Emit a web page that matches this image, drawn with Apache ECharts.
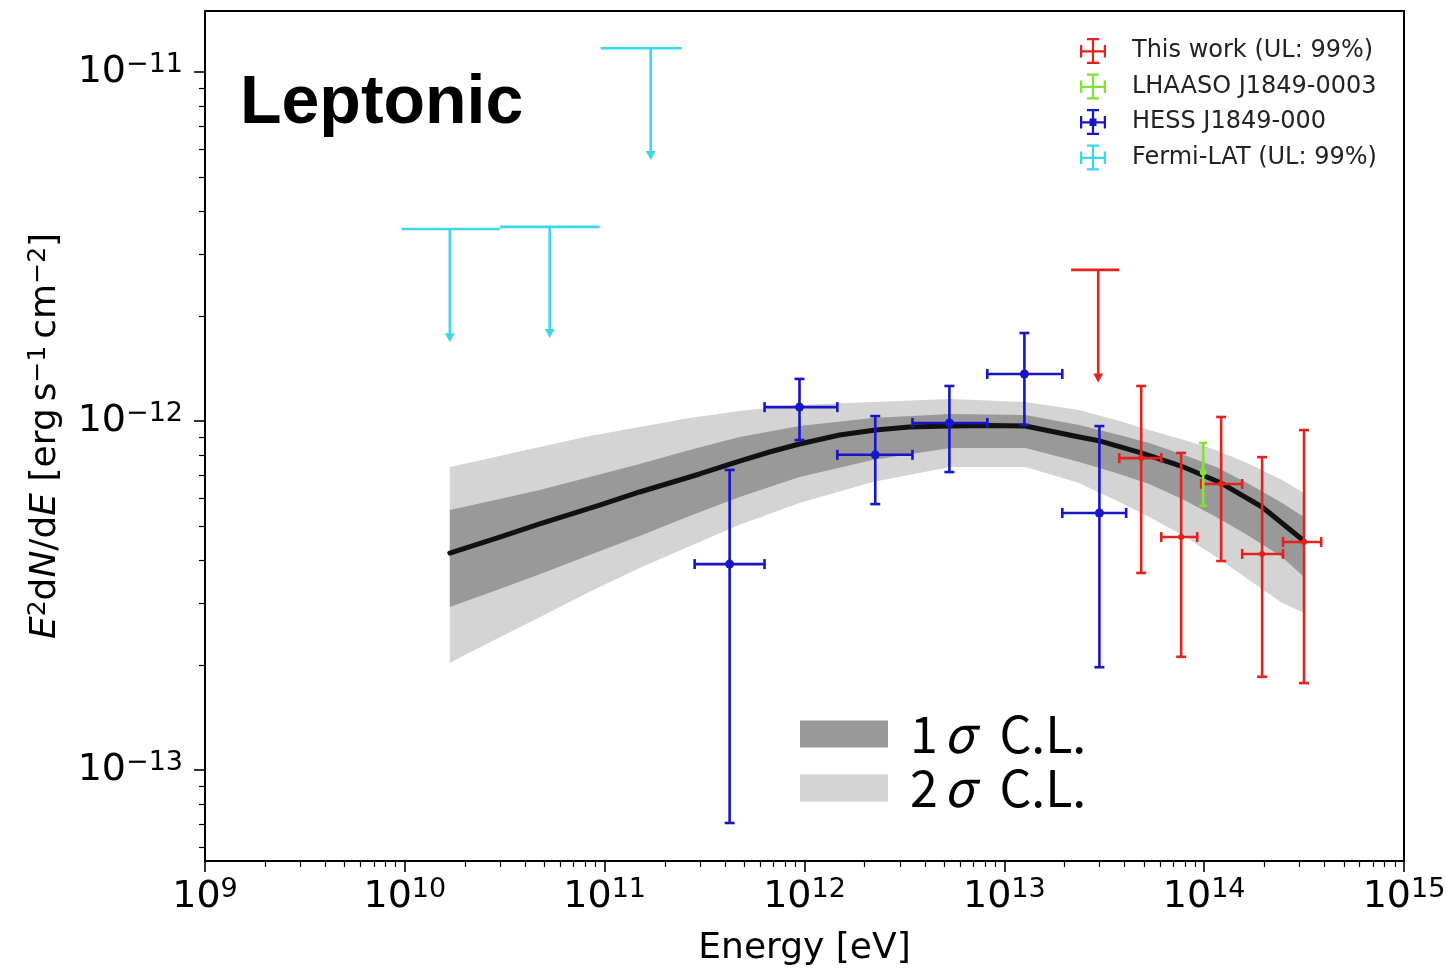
<!DOCTYPE html>
<html><head><meta charset="utf-8">
<script src="https://cdn.jsdelivr.net/npm/echarts@6/dist/echarts.min.js"></script>
<style>html,body{margin:0;padding:0;background:#fff}#c{width:1446px;height:969px}</style>
</head><body><div id="c"></div>
<script>
// ---------------- data (energy in eV, E^2 dN/dE in erg s^-1 cm^-2) ----------------
// Model curve (leptonic)
const modelE = [1.679e10, 2.985e10, 4.73e10, 9.44e10, 1.496e11, 2.985e11, 4.73e11, 6.68e11, 9.44e11, 1.496e12, 2.265e12, 3.35e12, 5.31e12, 8.41e12, 1.274e13, 2.371e13, 3.02e13, 4.84e13, 7.67e13, 1.216e14, 1.95e14, 3.16e14];
const modelF = [4.185e-13, 4.65e-13, 5.07e-13, 5.74e-13, 6.26e-13, 7.05e-13, 7.68e-13, 8.15e-13, 8.59e-13, 9.12e-13, 9.42e-13, 9.61e-13, 9.68e-13, 9.71e-13, 9.68e-13, 9.00e-13, 8.76e-13, 8.10e-13, 7.43e-13, 6.64e-13, 5.67e-13, 4.53e-13];
// Confidence bands
const bandE = [1.679e10, 2.985e10, 4.73e10, 8.41e10, 1.496e11, 2.66e11, 4.73e11, 9.44e11, 2.19e12, 5.37e12, 1.274e13, 2.37e13, 3.76e13, 5.31e13, 7.94e13, 1.148e14, 1.679e14, 2.455e14, 3.16e14];
const sigma2Upper = [7.38e-13, 7.94e-13, 8.42e-13, 9.06e-13, 9.61e-13, 1.02e-12, 1.068e-12, 1.111e-12, 1.134e-12, 1.156e-12, 1.134e-12, 1.075e-12, 1.0e-12, 9.42e-13, 8.82e-13, 8.26e-13, 7.53e-13, 6.78e-13, 6.22e-13];
const sigma1Upper = [5.56e-13, 5.98e-13, 6.34e-13, 6.91e-13, 7.53e-13, 8.26e-13, 9.00e-13, 9.68e-13, 1.02e-12, 1.047e-12, 1.04e-12, 9.74e-13, 9.12e-13, 8.65e-13, 7.99e-13, 7.38e-13, 6.60e-13, 5.82e-13, 5.31e-13];
const sigma1Lower = [2.93e-13, 3.30e-13, 3.64e-13, 4.13e-13, 4.68e-13, 5.34e-13, 6.06e-13, 6.91e-13, 7.73e-13, 8.37e-13, 8.37e-13, 7.63e-13, 7.05e-13, 6.60e-13, 5.94e-13, 5.31e-13, 4.68e-13, 4.08e-13, 3.57e-13];
const sigma2Lower = [2.03e-13, 2.40e-13, 2.74e-13, 3.24e-13, 3.79e-13, 4.38e-13, 5.04e-13, 5.82e-13, 6.69e-13, 7.38e-13, 7.38e-13, 6.64e-13, 5.86e-13, 5.31e-13, 4.68e-13, 4.08e-13, 3.50e-13, 3.01e-13, 2.82e-13];
// This work (points)
const thisE   = [4.84e13, 7.67e13, 1.216e14, 1.95e14, 3.16e14];
const thisELo = [3.76e13, 6.10e13, 9.66e13, 1.55e14, 2.48e14];
const thisEHi = [6.10e13, 9.23e13, 1.55e14, 2.48e14, 3.85e14];
const thisF   = [7.83e-13, 4.65e-13, 6.60e-13, 4.16e-13, 4.50e-13];
const thisFLo = [3.67e-13, 2.11e-13, 3.97e-13, 1.85e-13, 1.775e-13];
const thisFHi = [1.26e-12, 8.10e-13, 1.027e-12, 7.88e-13, 9.42e-13];
// This work (upper limit)
const thisUlE = [2.95e13], thisUlELo = [2.16e13], thisUlEHi = [3.76e13];
const thisUlF = [2.71e-12], thisUlTip = [1.29e-12];
// LHAASO J1849-0003
const lhaasoE = [9.89e13], lhaasoF = [7.14e-13], lhaasoFLo = [5.71e-13], lhaasoFHi = [8.65e-13];
// HESS J1849-000
const hessE   = [4.22e11, 9.44e11, 2.26e12, 5.31e12, 1.26e13, 2.99e13];
const hessELo = [2.82e11, 6.31e11, 1.46e12, 3.47e12, 8.22e12, 1.95e13];
const hessEHi = [6.31e11, 1.46e12, 3.47e12, 8.22e12, 1.95e13, 4.07e13];
const hessF   = [3.89e-13, 1.096e-12, 8.00e-13, 9.87e-13, 1.364e-12, 5.45e-13];
const hessFLo = [7.05e-14, 8.82e-13, 5.78e-13, 7.14e-13, 9.74e-13, 1.97e-13];
const hessFHi = [7.24e-13, 1.32e-12, 1.033e-12, 1.26e-12, 1.787e-12, 9.67e-13];
// Fermi-LAT upper limits
const fermiE   = [1.68e10, 5.31e10, 1.70e11];
const fermiELo = [9.66e9, 2.99e10, 9.55e10];
const fermiEHi = [2.99e10, 9.44e10, 2.43e11];
const fermiUL  = [3.55e-12, 3.60e-12, 1.17e-11];
const fermiTip = [1.68e-12, 1.73e-12, 5.60e-12];
// Axis ticks
const xMajor = [1e9, 1e10, 1e11, 1e12, 1e13, 1e14, 1e15];
const yMajor = [1e-13, 1e-12, 1e-11];
const xMin = 0.99999e9, xMax = 1.00001e15, yMin = 5.486e-14, yMax = 1.4955e-11;

const xMinor = [];
for (let d = 9; d < 15; d++) for (let k = 2; k <= 9; k++) xMinor.push(k * Math.pow(10, d));
const yMinor = [];
for (let d = -14; d <= -11; d++) for (let k = 2; k <= 9; k++) { const v = k * Math.pow(10, d); if (v > yMin && v < yMax) yMinor.push(v); }

// ---------------- colours ----------------
const RED = '#e3221e', GREEN = '#86e03a', BLUE = '#1616c8', CYAN = '#3ad8ea';
const DARK = '#999999', LIGHT = '#d4d4d4';

// ---------------- render helpers ----------------
function errorBarItem(color, dotR, cap, lw) {
  return function (params, api) {
    const e = api.value(0), f = api.value(1);
    const c = api.coord([e, f]);
    const xl = api.coord([api.value(2), f])[0], xh = api.coord([api.value(3), f])[0];
    const yl = api.coord([e, api.value(4)])[1], yh = api.coord([e, api.value(5)])[1];
    const st = { stroke: color, lineWidth: lw };
    const ch = [
      { type: 'line', shape: { x1: c[0], y1: yl, x2: c[0], y2: yh }, style: st },
      { type: 'line', shape: { x1: c[0] - cap, y1: yl, x2: c[0] + cap, y2: yl }, style: st },
      { type: 'line', shape: { x1: c[0] - cap, y1: yh, x2: c[0] + cap, y2: yh }, style: st }
    ];
    if (xh - xl > 1) {
      ch.push({ type: 'line', shape: { x1: xl, y1: c[1], x2: xh, y2: c[1] }, style: st });
      ch.push({ type: 'line', shape: { x1: xl, y1: c[1] - cap, x2: xl, y2: c[1] + cap }, style: st });
      ch.push({ type: 'line', shape: { x1: xh, y1: c[1] - cap, x2: xh, y2: c[1] + cap }, style: st });
    }
    ch.push({ type: 'circle', shape: { cx: c[0], cy: c[1], r: dotR }, style: { fill: color } });
    return { type: 'group', children: ch };
  };
}
function upperLimitItem(color, lw) {
  return function (params, api) {
    const e = api.value(0), f = api.value(1);
    const c = api.coord([e, f]);
    const xl = api.coord([api.value(2), f])[0], xh = api.coord([api.value(3), f])[0];
    const yt = api.coord([e, api.value(4)])[1];
    const st = { stroke: color, lineWidth: lw };
    return { type: 'group', children: [
      { type: 'line', shape: { x1: xl, y1: c[1], x2: xh, y2: c[1] }, style: st },
      { type: 'line', shape: { x1: c[0], y1: c[1], x2: c[0], y2: yt - 5 }, style: st },
      { type: 'polygon', shape: { points: [[c[0] - 5, yt - 9], [c[0] + 5, yt - 9], [c[0], yt]] }, style: { fill: color } }
    ] };
  };
}
function bandItem(color) {
  return function (params, api) {
    if (params.dataIndexInside !== 0) return null;
    const n = params.dataInsideLength;
    const up = [], lo = [];
    for (let i = 0; i < n; i++) {
      const e = api.value(0, i);
      lo.push(api.coord([e, api.value(1, i)]));
      up.push(api.coord([e, api.value(2, i)]));
    }
    return { type: 'polygon', shape: { points: up.concat(lo.reverse()) }, style: { fill: color } };
  };
}
const zip = (...arrs) => arrs[0].map((_, i) => arrs.map(a => a[i]));

function powLabel(v) {
  const l = Math.log10(v), r = Math.round(l);
  if (Math.abs(l - r) > 1e-4) return '';
  return '{b|10}{s|' + (r < 0 ? '\u2212' : '') + Math.abs(r) + '}';
}
const tickRich = {
  b: { fontFamily: 'DejaVu Sans', fontSize: 38, color: '#000' },
  s: { fontFamily: 'DejaVu Sans', fontSize: 27, color: '#000', padding: [0, 0, 15, 0] }
};

// legend icon: error-bar cross with caps
const ebIcon = 'path://M0 14h30v2.6H0z M13.7 0h2.6v30h-2.6z M0 8h2.6v14.6H0z M27.4 8H30v14.6h-2.6z M8 0h14v2.6H8z M8 27.4h14V30H8z';
const ebIconDot = 'path://M0 14h30v2.6H0z M13.7 0h2.6v30h-2.6z M0 8h2.6v14.6H0z M27.4 8H30v14.6h-2.6z M8 0h14v2.6H8z M8 27.4h14V30H8z M11 11h8v8.6h-8z';

const names = {
  thisWork: 'This work (UL: 99%)', lhaaso: 'LHAASO J1849-0003', hess: 'HESS J1849-000', fermi: 'Fermi-LAT (UL: 99%)',
  s1: '1\u03c3 C.L.', s2: '2\u03c3 C.L.'
};

const axisCommon = { type: 'log', logBase: 10, splitLine: { show: false }, minorTick: { show: false } };

const option = {
  animation: false,
  backgroundColor: '#fff',
  title: {
    text: 'Leptonic', left: 235, top: 65,
    textStyle: { fontFamily: 'Liberation Sans', fontWeight: 'bold', fontSize: 68, color: '#000' }
  },
  grid: { left: 205, top: 11, right: 42, bottom: 108, show: true, borderColor: '#000', borderWidth: 2, outerBoundsMode: 'none', containLabel: false },
  xAxis: [
    Object.assign({}, axisCommon, {
      min: xMin, max: xMax, position: 'bottom',
      name: 'Energy [eV]', nameLocation: 'middle', nameGap: 70,
      nameTextStyle: { fontFamily: 'DejaVu Sans', fontSize: 36, color: '#000' },
      axisLine: { show: true, lineStyle: { color: '#000', width: 2 } },
      axisTick: { show: true, customValues: xMajor, length: 11, lineStyle: { color: '#000', width: 1.6 } },
      axisLabel: { customValues: xMajor, margin: 15, formatter: powLabel, rich: tickRich }
    }),
    Object.assign({}, axisCommon, {
      min: xMin, max: xMax, position: 'bottom', gridIndex: 0,
      axisLine: { show: false }, axisLabel: { show: false },
      axisTick: { show: true, customValues: xMinor, length: 6, lineStyle: { color: '#000', width: 1.2 } }
    })
  ],
  yAxis: [
    Object.assign({}, axisCommon, {
      min: yMin, max: yMax, position: 'left',
      name: '{i|E}{s|2}d{i|N}/d{i|E} [erg{t| }s{s|\u22121}{t| }cm{s|\u22122}]',
      nameLocation: 'middle', nameGap: 140, nameRotate: 90,
      nameTextStyle: {
        fontFamily: 'DejaVu Sans', fontSize: 36, color: '#000',
        rich: {
          i: { fontFamily: 'DejaVu Sans', fontStyle: 'italic', fontSize: 36, color: '#000' },
          s: { fontFamily: 'DejaVu Sans', fontSize: 25, color: '#000', padding: [0, 0, 14, 0] },
          t: { fontFamily: 'DejaVu Sans', fontSize: 22, color: '#000' }
        }
      },
      axisLine: { show: true, lineStyle: { color: '#000', width: 2 } },
      axisTick: { show: true, customValues: yMajor, length: 11, lineStyle: { color: '#000', width: 1.6 } },
      axisLabel: { customValues: yMajor, margin: 22, formatter: powLabel, rich: tickRich }
    }),
    Object.assign({}, axisCommon, {
      min: yMin, max: yMax, position: 'left', gridIndex: 0,
      axisLine: { show: false }, axisLabel: { show: false },
      axisTick: { show: true, customValues: yMinor, length: 6, lineStyle: { color: '#000', width: 1.2 } }
    })
  ],
  legend: [
    {
      orient: 'vertical', left: 1075, top: 33, itemWidth: 26, itemHeight: 26, itemGap: 9.5, selectedMode: false,
      textStyle: { fontFamily: 'DejaVu Sans', fontSize: 24, color: '#222', padding: [0, 0, 0, 21] },
      data: [
        { name: names.thisWork, icon: ebIcon },
        { name: names.lhaaso, icon: ebIcon },
        { name: names.hess, icon: ebIconDot },
        { name: names.fermi, icon: ebIcon }
      ]
    },
    {
      orient: 'vertical', left: 795, top: 704, itemWidth: 88, itemHeight: 27, itemGap: 4, selectedMode: false,
      data: [{ name: names.s1, icon: 'rect' }, { name: names.s2, icon: 'rect' }],
      formatter: function (n) { return '{n|' + n.charAt(0) + '}{g|\u03c3}{n| C.L.}'; },
      textStyle: {
        fontFamily: 'Noto Sans CJK JP', fontSize: 50, color: '#000', padding: [0, 0, 0, 17],
        rich: {
          n: { fontFamily: 'Noto Sans CJK JP', fontSize: 50, color: '#000' },
          g: { fontFamily: 'Noto Sans CJK JP', fontStyle: 'italic', fontSize: 50, color: '#000', padding: [0, 14, 0, 6] }
        }
      }
    }
  ],
  series: [
    { type: 'custom', name: names.s2, xAxisIndex: 0, yAxisIndex: 0, z: 1, clip: true,
      itemStyle: { color: LIGHT }, renderItem: bandItem(LIGHT),
      encode: { x: 0, y: [1, 2] }, data: zip(bandE, sigma2Lower, sigma2Upper) },
    { type: 'custom', name: names.s1, xAxisIndex: 0, yAxisIndex: 0, z: 2, clip: true,
      itemStyle: { color: DARK }, renderItem: bandItem(DARK),
      encode: { x: 0, y: [1, 2] }, data: zip(bandE, sigma1Lower, sigma1Upper) },
    { type: 'line', name: 'Leptonic model', xAxisIndex: 0, yAxisIndex: 0, z: 3,
      showSymbol: false, symbol: 'none', smooth: false,
      lineStyle: { color: '#111', width: 5, join: 'round', cap: 'round' }, itemStyle: { color: '#111' },
      data: zip(modelE, modelF) },
    { type: 'custom', name: names.hess, xAxisIndex: 0, yAxisIndex: 0, z: 5, clip: true,
      itemStyle: { color: BLUE }, renderItem: errorBarItem(BLUE, 4.5, 5, 2.6),
      encode: { x: [0, 2, 3], y: [1, 4, 5] }, data: zip(hessE, hessF, hessELo, hessEHi, hessFLo, hessFHi) },
    { type: 'custom', name: names.thisWork, xAxisIndex: 0, yAxisIndex: 0, z: 6, clip: true,
      itemStyle: { color: RED }, renderItem: errorBarItem(RED, 3, 5, 2.6),
      encode: { x: [0, 2, 3], y: [1, 4, 5] }, data: zip(thisE, thisF, thisELo, thisEHi, thisFLo, thisFHi) },
    { type: 'custom', name: names.thisWork, xAxisIndex: 0, yAxisIndex: 0, z: 6, clip: true,
      itemStyle: { color: RED }, renderItem: upperLimitItem(RED, 2.6),
      encode: { x: [0, 2, 3], y: [1, 4] }, data: zip(thisUlE, thisUlF, thisUlELo, thisUlEHi, thisUlTip) },
    { type: 'custom', name: names.lhaaso, xAxisIndex: 0, yAxisIndex: 0, z: 7, clip: true,
      itemStyle: { color: GREEN }, renderItem: errorBarItem(GREEN, 3.5, 4, 2.6),
      encode: { x: 0, y: [1, 4, 5] }, data: zip(lhaasoE, lhaasoF, lhaasoE, lhaasoE, lhaasoFLo, lhaasoFHi) },
    { type: 'custom', name: names.fermi, xAxisIndex: 0, yAxisIndex: 0, z: 5, clip: true,
      itemStyle: { color: CYAN }, renderItem: upperLimitItem(CYAN, 2.6),
      encode: { x: [0, 2, 3], y: [1, 4] }, data: zip(fermiE, fermiUL, fermiELo, fermiEHi, fermiTip) }
  ]
};

const chart = echarts.init(document.getElementById('c'), null, { renderer: 'canvas' });
chart.setOption(option);
</script></body></html>
